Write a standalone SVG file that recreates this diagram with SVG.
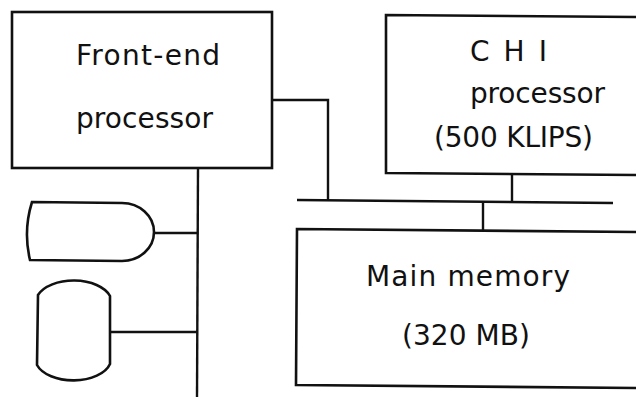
<svg xmlns="http://www.w3.org/2000/svg" width="636" height="399" viewBox="0 0 636 399">
<style>
.box{fill:none;stroke:#111;stroke-width:2.6}
.ln{fill:none;stroke:#111;stroke-width:2.4}
text{font-family:"DejaVu Sans","Liberation Sans",sans-serif;font-size:28px;fill:#111}
</style>
<rect width="636" height="399" fill="#fff"/>
<g id="connectors">
<polyline class="ln" points="272,100 328,100 328,200"/>
<line class="ln" x1="297" y1="200" x2="613" y2="203"/>
<line class="ln" x1="512" y1="174" x2="512" y2="202"/>
<line class="ln" x1="483" y1="202" x2="483" y2="230"/>
<line class="ln" x1="198" y1="168" x2="197" y2="397"/>
<line class="ln" x1="154" y1="233" x2="197" y2="233"/>
<line class="ln" x1="110" y1="332" x2="197" y2="332"/>
</g>
<g id="front-end">
<rect class="box" x="12" y="12" width="260" height="156"/>
<text x="76" y="65" textLength="144">Front-end</text>
<text x="76" y="128" textLength="137">processor</text>
</g>
<g id="chi">
<polyline class="box" points="638,17 386,15 386,173 638,175"/>
<text x="470" y="61" textLength="77">C H I</text>
<text x="470" y="103" textLength="135">processor</text>
<text x="434" y="147" textLength="159">(500 KLIPS)</text>
</g>
<g id="main-memory">
<polyline class="box" points="638,232 297,229 296,385 638,388"/>
<text x="366" y="286" textLength="204">Main memory</text>
<text x="402" y="345" textLength="128">(320 MB)</text>
</g>
<g id="display">
<path class="box" d="M32,202 L122,203 A32,29 0 0 1 122,261 L30,260 Q23,231 32,202 Z"/>
</g>
<g id="disk">
<path class="box" d="M38,295 A38,22 0 0 1 110,296 L110,364 A38,22 0 0 1 37,365 Z"/>
</g>
</svg>
